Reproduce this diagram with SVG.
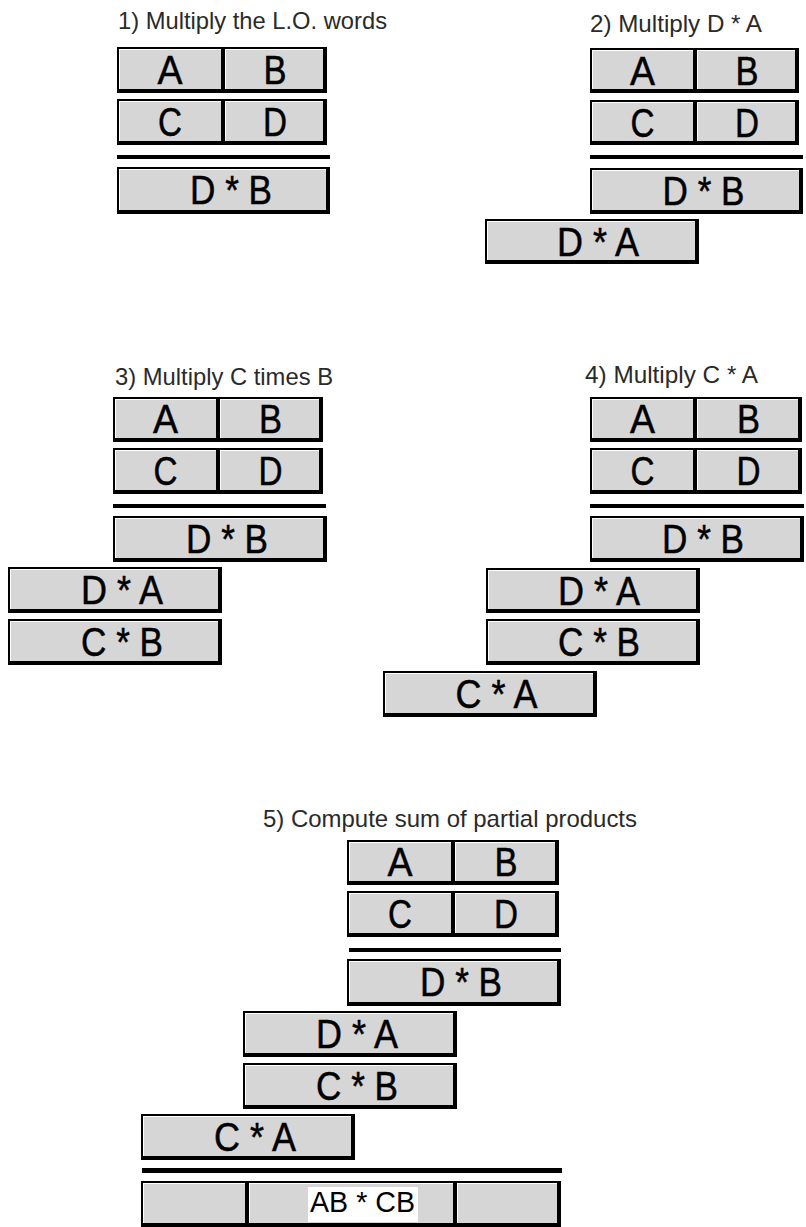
<svg xmlns="http://www.w3.org/2000/svg" width="806" height="1227" viewBox="0 0 806 1227">
<style>
.k{fill:#000}
.w{fill:#fff}
.g{fill:#d6d6d6}
.t{font-family:"Liberation Sans",Arial,sans-serif;font-size:24px;fill:#2a2a2a}
.l{font-family:"Liberation Sans",Arial,sans-serif;font-size:40px;fill:#000;stroke:#000;stroke-width:0.5px;text-anchor:middle}
.s{font-family:"Liberation Sans",Arial,sans-serif;font-size:30px;fill:#000;text-anchor:middle}
</style>
<rect x="0" y="0" width="806" height="1227" fill="#fff"/>

<!-- Panel 1 -->
<g id="panel1">
<text class="t" x="118" y="29" textLength="269" lengthAdjust="spacingAndGlyphs">1) Multiply the L.O. words</text>
<g id="p1-A"><rect class="k" x="117" y="47" width="108" height="46"/><rect class="w" x="119" y="49" width="102" height="40"/><rect class="g" x="120" y="50" width="101" height="39"/><text class="l" x="170" y="84" textLength="25" lengthAdjust="spacingAndGlyphs">A</text></g>
<g id="p1-B"><rect class="k" x="223" y="47" width="104" height="46"/><rect class="w" x="225" y="49" width="98" height="40"/><rect class="g" x="226" y="50" width="97" height="39"/><text class="l" x="275" y="84" textLength="23" lengthAdjust="spacingAndGlyphs">B</text></g>
<g id="p1-C"><rect class="k" x="117" y="99" width="108" height="46"/><rect class="w" x="119" y="101" width="102" height="40"/><rect class="g" x="120" y="102" width="101" height="39"/><text class="l" x="170" y="136" textLength="24" lengthAdjust="spacingAndGlyphs">C</text></g>
<g id="p1-D"><rect class="k" x="223" y="99" width="104" height="46"/><rect class="w" x="225" y="101" width="98" height="40"/><rect class="g" x="226" y="102" width="97" height="39"/><text class="l" x="275" y="136" textLength="24" lengthAdjust="spacingAndGlyphs">D</text></g>
<rect class="k" x="117" y="155" width="213" height="4"/>
<g id="p1-DB"><rect class="k" x="117" y="167" width="213" height="47"/><rect class="w" x="119" y="169" width="207" height="41"/><rect class="g" x="120" y="170" width="206" height="40"/><text class="l" x="231" y="204" textLength="82" lengthAdjust="spacingAndGlyphs">D * B</text></g>
</g>

<!-- Panel 2 -->
<g id="panel2">
<text class="t" x="590" y="32" textLength="172" lengthAdjust="spacingAndGlyphs">2) Multiply D * A</text>
<g id="p2-A"><rect class="k" x="590" y="48" width="107" height="45"/><rect class="w" x="592" y="50" width="101" height="39"/><rect class="g" x="593" y="51" width="100" height="38"/><text class="l" x="642.5" y="85" textLength="25" lengthAdjust="spacingAndGlyphs">A</text></g>
<g id="p2-B"><rect class="k" x="695" y="48" width="104" height="45"/><rect class="w" x="697" y="50" width="98" height="39"/><rect class="g" x="698" y="51" width="97" height="38"/><text class="l" x="747" y="85" textLength="23" lengthAdjust="spacingAndGlyphs">B</text></g>
<g id="p2-C"><rect class="k" x="590" y="100" width="107" height="45"/><rect class="w" x="592" y="102" width="101" height="39"/><rect class="g" x="593" y="103" width="100" height="38"/><text class="l" x="642.5" y="137" textLength="24" lengthAdjust="spacingAndGlyphs">C</text></g>
<g id="p2-D"><rect class="k" x="695" y="100" width="104" height="45"/><rect class="w" x="697" y="102" width="98" height="39"/><rect class="g" x="698" y="103" width="97" height="38"/><text class="l" x="747" y="137" textLength="24" lengthAdjust="spacingAndGlyphs">D</text></g>
<rect class="k" x="590" y="155" width="213" height="4"/>
<g id="p2-DB"><rect class="k" x="590" y="168" width="213" height="46"/><rect class="w" x="592" y="170" width="207" height="40"/><rect class="g" x="593" y="171" width="206" height="39"/><text class="l" x="703.5" y="205" textLength="82" lengthAdjust="spacingAndGlyphs">D * B</text></g>
<g id="p2-DA"><rect class="k" x="485" y="219" width="214" height="45"/><rect class="w" x="487" y="221" width="208" height="39"/><rect class="g" x="488" y="222" width="207" height="38"/><text class="l" x="598" y="256" textLength="82" lengthAdjust="spacingAndGlyphs">D * A</text></g>
</g>

<!-- Panel 3 -->
<g id="panel3">
<text class="t" x="115" y="385" textLength="218" lengthAdjust="spacingAndGlyphs">3) Multiply C times B</text>
<g id="p3-A"><rect class="k" x="113" y="397" width="107" height="45"/><rect class="w" x="115" y="399" width="101" height="39"/><rect class="g" x="116" y="400" width="100" height="38"/><text class="l" x="165.5" y="433" textLength="25" lengthAdjust="spacingAndGlyphs">A</text></g>
<g id="p3-B"><rect class="k" x="218" y="397" width="105" height="45"/><rect class="w" x="220" y="399" width="99" height="39"/><rect class="g" x="221" y="400" width="98" height="38"/><text class="l" x="270.5" y="433" textLength="23" lengthAdjust="spacingAndGlyphs">B</text></g>
<g id="p3-C"><rect class="k" x="113" y="448" width="107" height="46"/><rect class="w" x="115" y="450" width="101" height="40"/><rect class="g" x="116" y="451" width="100" height="39"/><text class="l" x="165.5" y="485" textLength="24" lengthAdjust="spacingAndGlyphs">C</text></g>
<g id="p3-D"><rect class="k" x="218" y="448" width="105" height="46"/><rect class="w" x="220" y="450" width="99" height="40"/><rect class="g" x="221" y="451" width="98" height="39"/><text class="l" x="270.5" y="485" textLength="24" lengthAdjust="spacingAndGlyphs">D</text></g>
<rect class="k" x="113" y="504" width="213" height="4"/>
<g id="p3-DB"><rect class="k" x="113" y="516" width="214" height="46"/><rect class="w" x="115" y="518" width="208" height="40"/><rect class="g" x="116" y="519" width="207" height="39"/><text class="l" x="227" y="553" textLength="82" lengthAdjust="spacingAndGlyphs">D * B</text></g>
<g id="p3-DA"><rect class="k" x="8" y="567" width="214" height="46"/><rect class="w" x="10" y="569" width="208" height="40"/><rect class="g" x="11" y="570" width="207" height="39"/><text class="l" x="122" y="604" textLength="82" lengthAdjust="spacingAndGlyphs">D * A</text></g>
<g id="p3-CB"><rect class="k" x="8" y="619" width="214" height="46"/><rect class="w" x="10" y="621" width="208" height="40"/><rect class="g" x="11" y="622" width="207" height="39"/><text class="l" x="122" y="656" textLength="82" lengthAdjust="spacingAndGlyphs">C * B</text></g>
</g>

<!-- Panel 4 -->
<g id="panel4">
<text class="t" x="585" y="383" textLength="173" lengthAdjust="spacingAndGlyphs">4) Multiply C * A</text>
<g id="p4-A"><rect class="k" x="590" y="397" width="107" height="45"/><rect class="w" x="592" y="399" width="101" height="39"/><rect class="g" x="593" y="400" width="100" height="38"/><text class="l" x="642.5" y="433" textLength="25" lengthAdjust="spacingAndGlyphs">A</text></g>
<g id="p4-B"><rect class="k" x="695" y="397" width="107" height="45"/><rect class="w" x="697" y="399" width="101" height="39"/><rect class="g" x="698" y="400" width="100" height="38"/><text class="l" x="748.5" y="433" textLength="23" lengthAdjust="spacingAndGlyphs">B</text></g>
<g id="p4-C"><rect class="k" x="590" y="448" width="107" height="46"/><rect class="w" x="592" y="450" width="101" height="40"/><rect class="g" x="593" y="451" width="100" height="39"/><text class="l" x="642.5" y="485" textLength="24" lengthAdjust="spacingAndGlyphs">C</text></g>
<g id="p4-D"><rect class="k" x="695" y="448" width="107" height="46"/><rect class="w" x="697" y="450" width="101" height="40"/><rect class="g" x="698" y="451" width="100" height="39"/><text class="l" x="748.5" y="485" textLength="24" lengthAdjust="spacingAndGlyphs">D</text></g>
<rect class="k" x="590" y="504" width="214" height="4"/>
<g id="p4-DB"><rect class="k" x="590" y="516" width="214" height="46"/><rect class="w" x="592" y="518" width="208" height="40"/><rect class="g" x="593" y="519" width="207" height="39"/><text class="l" x="703" y="553" textLength="82" lengthAdjust="spacingAndGlyphs">D * B</text></g>
<g id="p4-DA"><rect class="k" x="486" y="568" width="214" height="45"/><rect class="w" x="488" y="570" width="208" height="39"/><rect class="g" x="489" y="571" width="207" height="38"/><text class="l" x="599" y="605" textLength="82" lengthAdjust="spacingAndGlyphs">D * A</text></g>
<g id="p4-CB"><rect class="k" x="486" y="619" width="214" height="46"/><rect class="w" x="488" y="621" width="208" height="40"/><rect class="g" x="489" y="622" width="207" height="39"/><text class="l" x="599" y="656" textLength="82" lengthAdjust="spacingAndGlyphs">C * B</text></g>
<g id="p4-CA"><rect class="k" x="383" y="671" width="214" height="46"/><rect class="w" x="385" y="673" width="208" height="40"/><rect class="g" x="386" y="674" width="207" height="39"/><text class="l" x="496.5" y="708" textLength="82" lengthAdjust="spacingAndGlyphs">C * A</text></g>
</g>

<!-- Panel 5 -->
<g id="panel5">
<text class="t" x="263" y="827" textLength="374" lengthAdjust="spacingAndGlyphs">5) Compute sum of partial products</text>
<g id="p5-A"><rect class="k" x="347" y="840" width="108" height="45"/><rect class="w" x="349" y="842" width="102" height="39"/><rect class="g" x="350" y="843" width="101" height="38"/><text class="l" x="400" y="876" textLength="25" lengthAdjust="spacingAndGlyphs">A</text></g>
<g id="p5-B"><rect class="k" x="453" y="840" width="106" height="45"/><rect class="w" x="455" y="842" width="100" height="39"/><rect class="g" x="456" y="843" width="99" height="38"/><text class="l" x="506" y="876" textLength="23" lengthAdjust="spacingAndGlyphs">B</text></g>
<g id="p5-C"><rect class="k" x="347" y="891" width="108" height="46"/><rect class="w" x="349" y="893" width="102" height="40"/><rect class="g" x="350" y="894" width="101" height="39"/><text class="l" x="400" y="928" textLength="24" lengthAdjust="spacingAndGlyphs">C</text></g>
<g id="p5-D"><rect class="k" x="453" y="891" width="106" height="46"/><rect class="w" x="455" y="893" width="100" height="40"/><rect class="g" x="456" y="894" width="99" height="39"/><text class="l" x="506" y="928" textLength="24" lengthAdjust="spacingAndGlyphs">D</text></g>
<rect class="k" x="349" y="948" width="212" height="4"/>
<g id="p5-DB"><rect class="k" x="347" y="959" width="214" height="47"/><rect class="w" x="349" y="961" width="208" height="41"/><rect class="g" x="350" y="962" width="207" height="40"/><text class="l" x="461" y="996" textLength="82" lengthAdjust="spacingAndGlyphs">D * B</text></g>
<g id="p5-DA"><rect class="k" x="243" y="1011" width="214" height="46"/><rect class="w" x="245" y="1013" width="208" height="40"/><rect class="g" x="246" y="1014" width="207" height="39"/><text class="l" x="357" y="1048" textLength="82" lengthAdjust="spacingAndGlyphs">D * A</text></g>
<g id="p5-CB"><rect class="k" x="243" y="1063" width="214" height="46"/><rect class="w" x="245" y="1065" width="208" height="40"/><rect class="g" x="246" y="1066" width="207" height="39"/><text class="l" x="357" y="1100" textLength="82" lengthAdjust="spacingAndGlyphs">C * B</text></g>
<g id="p5-CA"><rect class="k" x="141" y="1114" width="214" height="46"/><rect class="w" x="143" y="1116" width="208" height="40"/><rect class="g" x="144" y="1117" width="207" height="39"/><text class="l" x="255" y="1151" textLength="82" lengthAdjust="spacingAndGlyphs">C * A</text></g>
<rect class="k" x="142" y="1168" width="420" height="5"/>
<g id="p5-R1"><rect class="k" x="141" y="1181" width="108" height="46"/><rect class="w" x="143" y="1183" width="102" height="40"/><rect class="g" x="144" y="1184" width="101" height="39"/></g>
<g id="p5-R2"><rect class="k" x="247" y="1181" width="210" height="46"/><rect class="w" x="249" y="1183" width="204" height="40"/><rect class="g" x="250" y="1184" width="203" height="39"/><rect class="w" x="308" y="1187" width="110" height="35"/><text class="s" x="362.5" y="1212" textLength="105" lengthAdjust="spacingAndGlyphs">AB * CB</text></g>
<g id="p5-R3"><rect class="k" x="455" y="1181" width="106" height="46"/><rect class="w" x="457" y="1183" width="100" height="40"/><rect class="g" x="458" y="1184" width="99" height="39"/></g>
</g>
</svg>
